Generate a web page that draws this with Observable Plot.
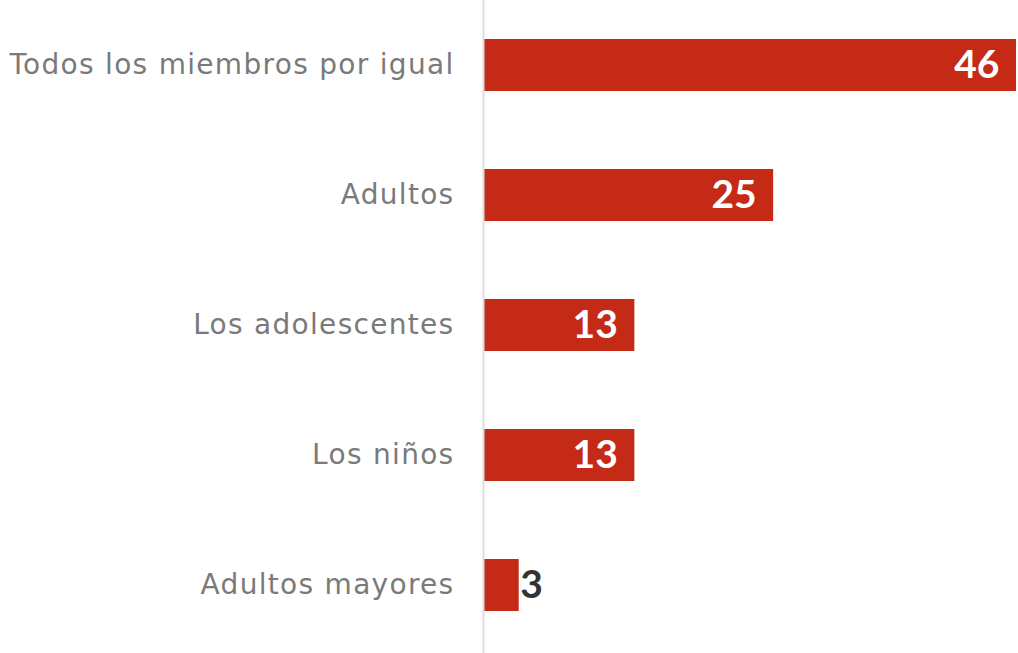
<!DOCTYPE html>
<html><head><meta charset="utf-8">
<script src="https://cdn.jsdelivr.net/npm/d3@7"></script>
<script src="https://cdn.jsdelivr.net/npm/@observablehq/plot@0.6"></script>
<style>body{margin:0;background:#fff;} svg{display:block;}
svg g[aria-label="y-axis tick label"] text { letter-spacing: 1.3px; }
</style>
</head><body><div id="chart"></div>
<script>
const categories = ["Todos los miembros por igual", "Adultos", "Los adolescentes", "Los niños", "Adultos mayores"];
const values = [46, 25, 13, 13, 3];
const data = categories.map((c, i) => ({category: c, value: values[i]}));

const chart = Plot.plot({
  width: 1018,
  height: 653,
  marginLeft: 484,
  marginRight: 2,
  marginTop: 12,
  marginBottom: 15,
  style: {fontFamily: "Lato, sans-serif", background: "#fff"},
  x: {domain: [0, 46], axis: null},
  y: {domain: categories, paddingInner: 0.6, paddingOuter: 0.2, label: null},
  marks: [
    Plot.barX(data, {x: "value", y: "category", fill: "#c42a16"}),
    Plot.ruleX([0], {stroke: "#dddddd", strokeWidth: 2, dx: -1, insetTop: -12, insetBottom: -15}),
    Plot.axisY({tickSize: 0, tickPadding: 30, fontSize: 28, fill: "#7a7a7a", fontFamily: "DejaVu Sans", label: null}),
    Plot.text(data.filter(d => d.value >= 10), {x: "value", y: "category", text: d => String(d.value), textAnchor: "end", dx: -17, fill: "white", fontSize: 39, fontWeight: "bold"}),
    Plot.text(data.filter(d => d.value < 10), {x: "value", y: "category", text: d => String(d.value), textAnchor: "start", dx: 1, fill: "#333", fontSize: 39, fontWeight: "bold"})
  ]
});
document.getElementById("chart").appendChild(chart);
</script></body></html>
